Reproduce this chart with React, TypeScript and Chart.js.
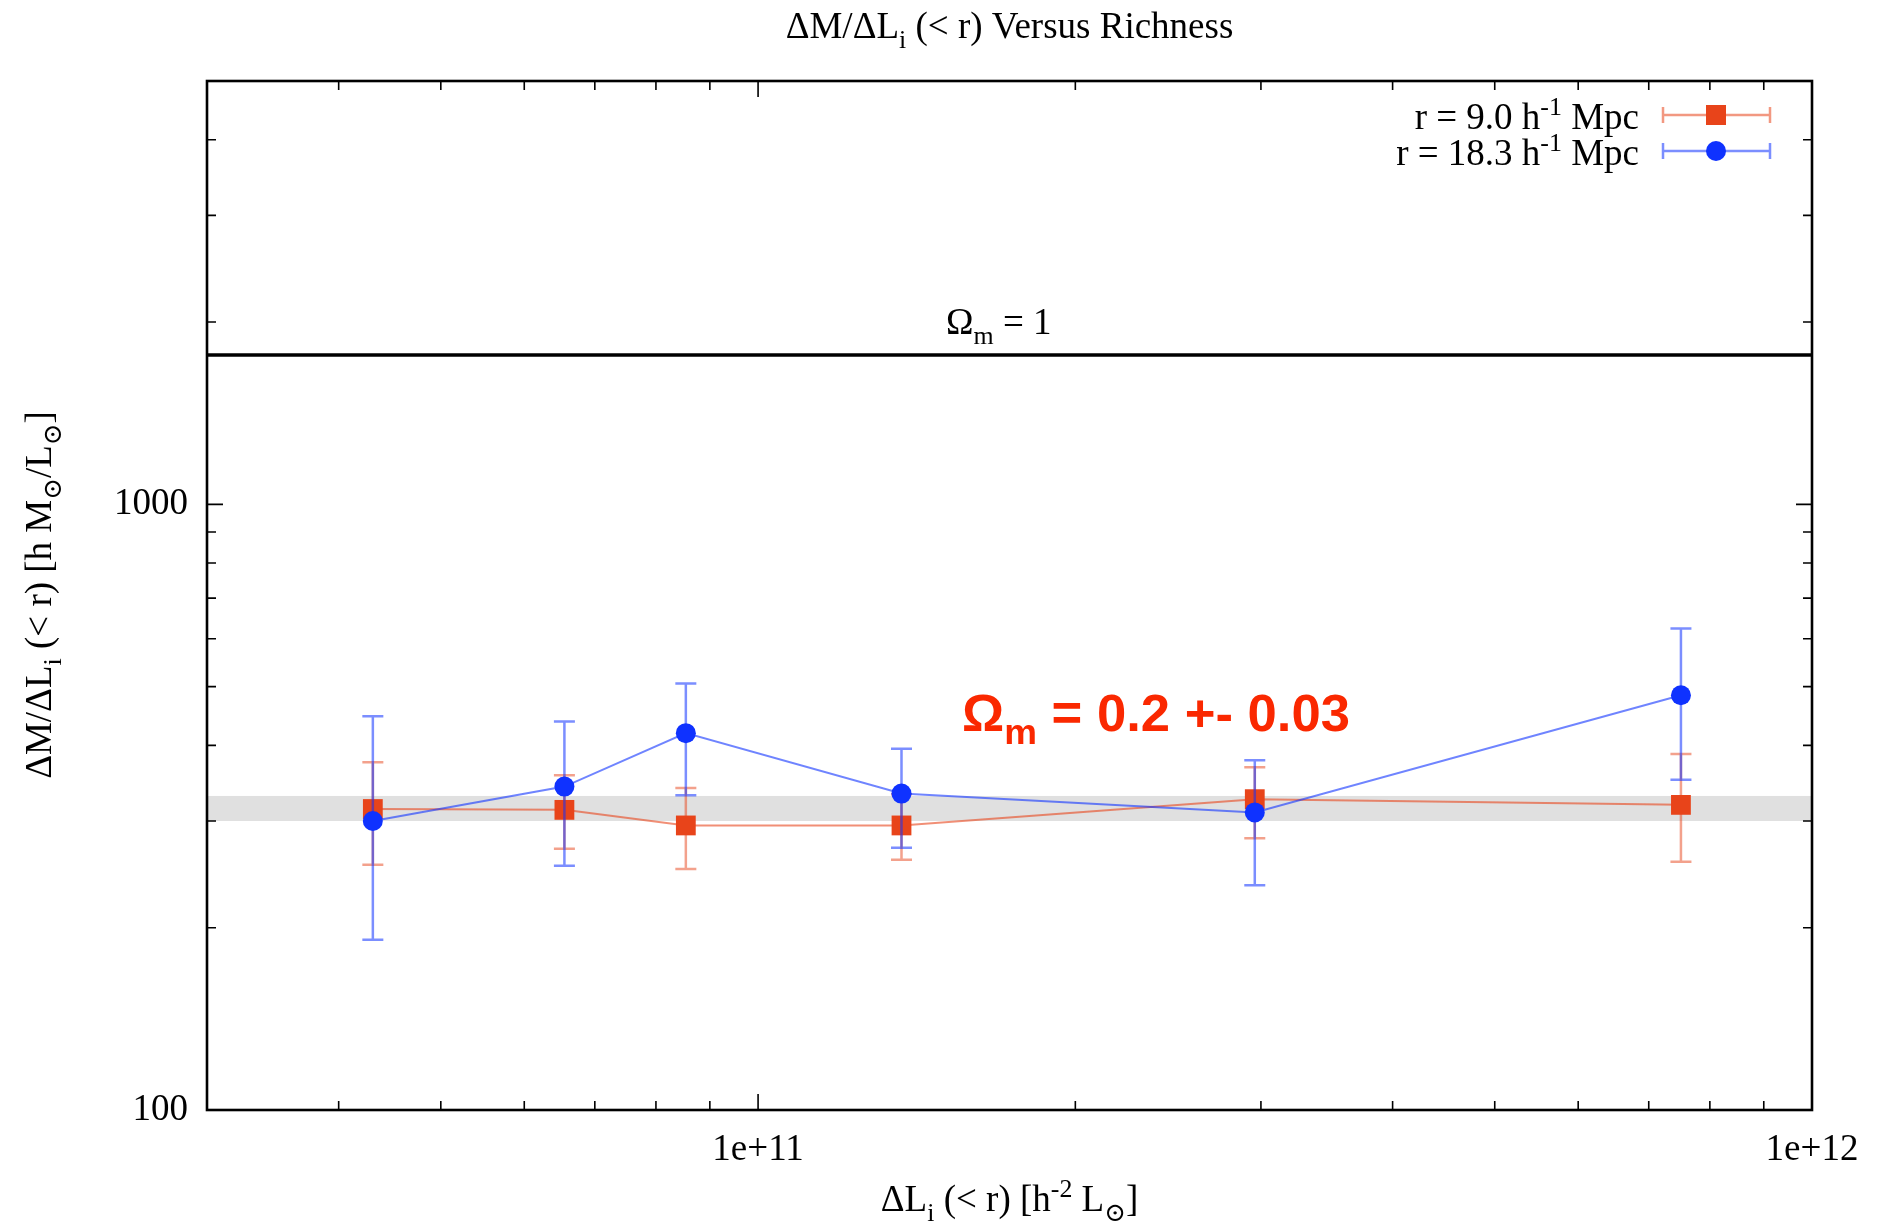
import React, { useEffect, useRef } from 'react';
import { Chart, registerables } from 'chart.js';

Chart.register(...registerables);

// ---- data ----
const xLuminosity = [4.31e10, 6.55e10, 8.54e10, 1.368e11, 2.96e11, 7.51e11];
const red9Values = [314, 313, 295, 295, 326, 319];
const red9Low = [254, 270, 250, 259, 281, 257];
const red9High = [375, 357, 340, 332, 368, 387];
const blue18Values = [300, 342, 419, 333, 310, 484];
const blue18Low = [191, 253, 331, 271, 235, 351];
const blue18High = [447, 438, 506, 395, 378, 624];

const xMajorTicks = [1e11, 1e12];
const xMinorTicks = [4e10, 5e10, 6e10, 7e10, 8e10, 9e10, 2e11, 3e11, 4e11, 5e11, 6e11, 7e11, 8e11, 9e11];
const yMajorTicks = [100, 1000];
const yMinorTicks = [200, 300, 400, 500, 600, 700, 800, 900, 2000, 3000, 4000];
const bandRange = [300, 330];
const omegaOneLevel = 1765;
const xRange = [3e10, 1e12];
const yRange = [100, 5000];

const SERIF = "'Liberation Serif', 'Times New Roman', 'DejaVu Serif', serif";
const FS = 37;
const RED = '#e8441a';
const BLUE = '#0f32ff';

type Seg = { t: string; sub?: boolean; sup?: boolean };

function segFont(s: Seg, size: number, family: string, weight: string) {
  const fs = s.sub || s.sup ? size * 0.7 : size;
  return `${weight} ${fs}px ${family}`;
}

function measureRich(ctx: CanvasRenderingContext2D, segs: Seg[], size: number, family: string, weight = 'normal') {
  let w = 0;
  for (const s of segs) {
    ctx.font = segFont(s, size, family, weight);
    w += ctx.measureText(s.t).width;
  }
  return w;
}

function drawRich(
  ctx: CanvasRenderingContext2D,
  segs: Seg[],
  x: number,
  y: number,
  size: number,
  family: string,
  align: 'left' | 'center' | 'right',
  color: string,
  weight = 'normal'
) {
  const total = measureRich(ctx, segs, size, family, weight);
  let cx = align === 'center' ? x - total / 2 : align === 'right' ? x - total : x;
  ctx.fillStyle = color;
  ctx.textAlign = 'left';
  ctx.textBaseline = 'alphabetic';
  for (const s of segs) {
    ctx.font = segFont(s, size, family, weight);
    const dy = s.sub ? size * 0.26 : s.sup ? -size * 0.38 : 0;
    ctx.fillText(s.t, cx, y + dy);
    cx += ctx.measureText(s.t).width;
  }
}

const errorBars: Record<number, { lo: number[]; hi: number[]; color: string }> = {
  0: { lo: blue18Low, hi: blue18High, color: 'rgba(15,50,255,0.55)' },
  1: { lo: red9Low, hi: red9High, color: 'rgba(232,68,26,0.5)' },
};

const errorBarPlugin = {
  id: 'errorBars',
  beforeDatasetDraw(chart: any, args: any) {
    const eb = errorBars[args.index];
    if (!eb) return;
    const { ctx, scales } = chart;
    const xs = scales.x;
    const ys = scales.y;
    ctx.save();
    ctx.strokeStyle = eb.color;
    ctx.lineWidth = 2.5;
    xLuminosity.forEach((xv, i) => {
      const px = xs.getPixelForValue(xv);
      const top = ys.getPixelForValue(eb.hi[i]);
      const bot = ys.getPixelForValue(eb.lo[i]);
      ctx.beginPath();
      ctx.moveTo(px, top);
      ctx.lineTo(px, bot);
      ctx.moveTo(px - 10.5, top);
      ctx.lineTo(px + 10.5, top);
      ctx.moveTo(px - 10.5, bot);
      ctx.lineTo(px + 10.5, bot);
      ctx.stroke();
    });
    ctx.restore();
  },
};

const backgroundPlugin = {
  id: 'bgMarks',
  beforeDatasetsDraw(chart: any) {
    const { ctx, chartArea, scales } = chart;
    const ys = scales.y;
    ctx.save();
    const yTop = ys.getPixelForValue(bandRange[1]);
    const yBot = ys.getPixelForValue(bandRange[0]);
    ctx.fillStyle = '#e0e0e0';
    ctx.fillRect(chartArea.left, yTop, chartArea.right - chartArea.left, yBot - yTop);
    const yo = ys.getPixelForValue(omegaOneLevel);
    ctx.strokeStyle = '#000';
    ctx.lineWidth = 3.5;
    ctx.beginPath();
    ctx.moveTo(chartArea.left, yo);
    ctx.lineTo(chartArea.right, yo);
    ctx.stroke();
    ctx.restore();
  },
};

const frameAndTextPlugin = {
  id: 'frameText',
  afterDatasetsDraw(chart: any) {
    const { ctx, chartArea, scales } = chart;
    const xs = scales.x;
    const ys = scales.y;
    const { left, right, top, bottom } = chartArea;
    ctx.save();
    ctx.strokeStyle = '#000';
    ctx.lineWidth = 1.6;
    ctx.beginPath();
    const major = 16;
    const minor = 9;
    for (const v of yMajorTicks.concat(yMinorTicks)) {
      const len = yMajorTicks.includes(v) ? major : minor;
      const py = ys.getPixelForValue(v);
      ctx.moveTo(left, py);
      ctx.lineTo(left + len, py);
      ctx.moveTo(right, py);
      ctx.lineTo(right - len, py);
    }
    for (const v of xMajorTicks.concat(xMinorTicks)) {
      const len = xMajorTicks.includes(v) ? major : minor;
      const px = xs.getPixelForValue(v);
      ctx.moveTo(px, bottom);
      ctx.lineTo(px, bottom - len);
      ctx.moveTo(px, top);
      ctx.lineTo(px, top + len);
    }
    ctx.stroke();
    ctx.lineWidth = 2.6;
    ctx.strokeRect(left, top, right - left, bottom - top);
    ctx.restore();
  },
  afterDraw(chart: any) {
    const { ctx, chartArea } = chart;
    const cx = (chartArea.left + chartArea.right) / 2;
    ctx.save();
    // title
    drawRich(ctx, [{ t: 'ΔM/ΔL' }, { t: 'i', sub: true }, { t: ' (< r) Versus Richness' }], cx, 38, FS, SERIF, 'center', '#000');
    // x axis title
    drawRich(
      ctx,
      [{ t: 'ΔL' }, { t: 'i', sub: true }, { t: ' (< r) [h' }, { t: '-2', sup: true }, { t: ' L' }, { t: '⊙', sub: true }, { t: ']' }],
      cx,
      1211,
      FS,
      SERIF,
      'center',
      '#000'
    );
    // y axis title
    ctx.save();
    ctx.translate(51, 595);
    ctx.rotate(-Math.PI / 2);
    drawRich(
      ctx,
      [
        { t: 'ΔM/ΔL' },
        { t: 'i', sub: true },
        { t: ' (< r) [h M' },
        { t: '⊙', sub: true },
        { t: '/L' },
        { t: '⊙', sub: true },
        { t: ']' },
      ],
      0,
      0,
      FS,
      SERIF,
      'center',
      '#000'
    );
    ctx.restore();
    // Omega = 1 label
    drawRich(ctx, [{ t: 'Ω' }, { t: 'm', sub: true }, { t: ' = 1' }], 946, 334, FS, SERIF, 'left', '#000');
    // red annotation
    const annSegs: Seg[] = [{ t: 'Ω' }, { t: 'm', sub: true }, { t: ' = 0.2 +- 0.03' }];
    const annFamily = "'Liberation Sans Narrow', 'Liberation Sans', Arial, sans-serif";
    const natural = measureRich(ctx, annSegs, 51, annFamily, 'bold');
    const sx = 388 / natural;
    ctx.save();
    ctx.translate(962, 731);
    ctx.scale(sx, 1);
    drawRich(ctx, annSegs, 0, 0, 51, annFamily, 'left', '#fa2800', 'bold');
    ctx.restore();
    // legend
    const rows = [
      { segs: [{ t: 'r = 9.0 h' }, { t: '-1', sup: true }, { t: ' Mpc' }] as Seg[], y: 115, color: RED, line: 'rgba(232,68,26,0.55)', rect: true },
      { segs: [{ t: 'r = 18.3 h' }, { t: '-1', sup: true }, { t: ' Mpc' }] as Seg[], y: 151, color: BLUE, line: 'rgba(15,50,255,0.55)', rect: false },
    ];
    for (const r of rows) {
      drawRich(ctx, r.segs, 1639, r.y + 14, FS, SERIF, 'right', '#000');
      ctx.strokeStyle = r.line;
      ctx.lineWidth = 2.5;
      ctx.beginPath();
      ctx.moveTo(1663, r.y);
      ctx.lineTo(1770, r.y);
      ctx.moveTo(1663, r.y - 8);
      ctx.lineTo(1663, r.y + 8);
      ctx.moveTo(1770, r.y - 8);
      ctx.lineTo(1770, r.y + 8);
      ctx.stroke();
      ctx.fillStyle = r.color;
      if (r.rect) {
        ctx.fillRect(1716 - 10, r.y - 10, 20, 20);
      } else {
        ctx.beginPath();
        ctx.arc(1716, r.y, 10, 0, Math.PI * 2);
        ctx.fill();
      }
    }
    ctx.restore();
  },
};

export default function App() {
  const ref = useRef<HTMLCanvasElement | null>(null);
  useEffect(() => {
    const canvas = ref.current;
    if (!canvas) return;
    const chart = new Chart(canvas, {
      type: 'line',
      data: {
        datasets: [
          {
            label: 'r = 18.3 h^-1 Mpc',
            data: xLuminosity.map((x, i) => ({ x, y: blue18Values[i] })),
            borderColor: 'rgba(15,50,255,0.6)',
            borderWidth: 2,
            pointStyle: 'circle',
            pointRadius: 10,
            pointBackgroundColor: BLUE,
            pointBorderWidth: 0,
            fill: false,
            tension: 0,
          },
          {
            label: 'r = 9.0 h^-1 Mpc',
            data: xLuminosity.map((x, i) => ({ x, y: red9Values[i] })),
            borderColor: 'rgba(232,68,26,0.6)',
            borderWidth: 2,
            pointStyle: 'rect',
            pointRadius: 14,
            pointBackgroundColor: RED,
            pointBorderWidth: 0,
            fill: false,
            tension: 0,
          },
        ],
      } as any,
      options: {
        animation: false,
        responsive: false,
        devicePixelRatio: 1,
        events: [],
        layout: { padding: { left: 57, right: 73, top: 81, bottom: 35 } },
        plugins: { legend: { display: false }, tooltip: { enabled: false }, title: { display: false } },
        scales: {
          x: {
            type: 'logarithmic',
            min: xRange[0],
            max: xRange[1],
            grid: { display: false },
            border: { display: false },
            afterBuildTicks: (s: any) => {
              s.ticks = xMajorTicks.map((v) => ({ value: v }));
            },
            afterFit: (s: any) => {
              s.height = 80;
            },
            ticks: {
              autoSkip: false,
              maxRotation: 0,
              padding: 10,
              color: '#000',
              font: { family: SERIF, size: FS },
              callback: (v: any) => '1e+' + Math.round(Math.log10(Number(v))),
            },
          },
          y: {
            type: 'logarithmic',
            min: yRange[0],
            max: yRange[1],
            grid: { display: false },
            border: { display: false },
            afterBuildTicks: (s: any) => {
              s.ticks = yMajorTicks.map((v) => ({ value: v }));
            },
            afterFit: (s: any) => {
              s.width = 150;
            },
            ticks: {
              autoSkip: false,
              padding: 11,
              color: '#000',
              font: { family: SERIF, size: FS },
              callback: (v: any) => String(v),
            },
          },
        },
      } as any,
      plugins: [backgroundPlugin, errorBarPlugin, frameAndTextPlugin],
    });
    return () => chart.destroy();
  }, []);
  return (
    <div style={{ position: 'fixed', left: 0, top: 0, width: 1885, height: 1225, background: '#fff' }}>
      <canvas ref={ref} width={1885} height={1225} style={{ display: 'block', width: 1885, height: 1225 }} />
    </div>
  );
}
